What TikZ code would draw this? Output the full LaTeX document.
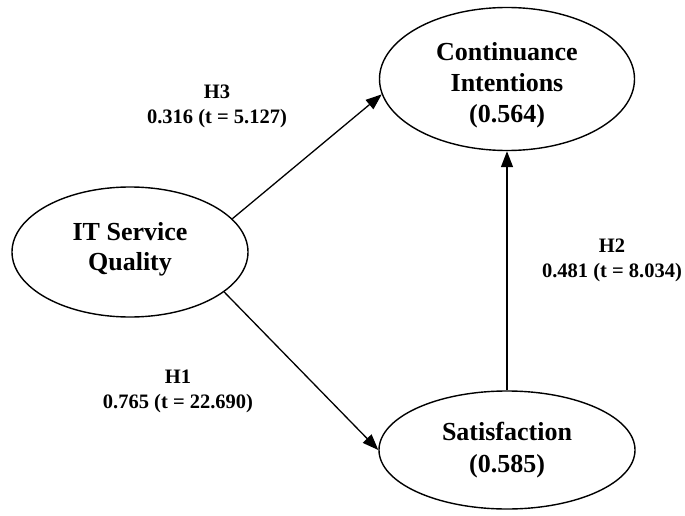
\documentclass[tikz,border=0pt]{standalone}
\usepackage{fontspec}
\setmainfont{Liberation Serif}
\usetikzlibrary{shapes.geometric,arrows.meta}
\begin{document}
\begin{tikzpicture}[x=1pt,y=-1pt,
  construct/.style={ellipse,draw,line width=1.4pt,inner sep=0pt,align=center,
    font=\fontsize{26}{31}\selectfont\bfseries},
  path/.style={line width=1.3pt,-{Triangle[length=16pt,width=12pt]}},
  plabel/.style={align=center,font=\fontsize{20.5}{25}\selectfont\bfseries}]
\useasboundingbox (0,0) rectangle (685,516);
\node[construct,minimum width=236pt,minimum height=130pt] (it) at (130,252) {};
\node[construct,minimum width=255pt,minimum height=143pt] (ci) at (507,79) {};
\node[construct,minimum width=256pt,minimum height=118pt] (sat) at (507,450) {};
\node[align=center,font=\fontsize{26}{30}\selectfont\bfseries] (itt) at (130,249) {IT Service\\Quality};
\node[align=center,font=\fontsize{26}{31}\selectfont\bfseries] (cit) at (507,85) {Continuance\\Intentions\\(0.564)};
\node[align=center,font=\fontsize{26}{32}\selectfont\bfseries] (satt) at (507,450) {Satisfaction\\(0.585)};
\draw[path] (it.18) -- (ci.187.6);
\draw[path] (it.-23.3) -- (sat.180);
\draw[path] (sat.north) -- (ci.south);
\node[plabel] (h3) at (217,106) {H3\\0.316 (t = 5.127)};
\node[plabel] (h1) at (178,391) {H1\\0.765 (t = 22.690)};
\node[plabel] (h2) at (612,260) {H2\\0.481 (t = 8.034)};
\end{tikzpicture}
\end{document}
